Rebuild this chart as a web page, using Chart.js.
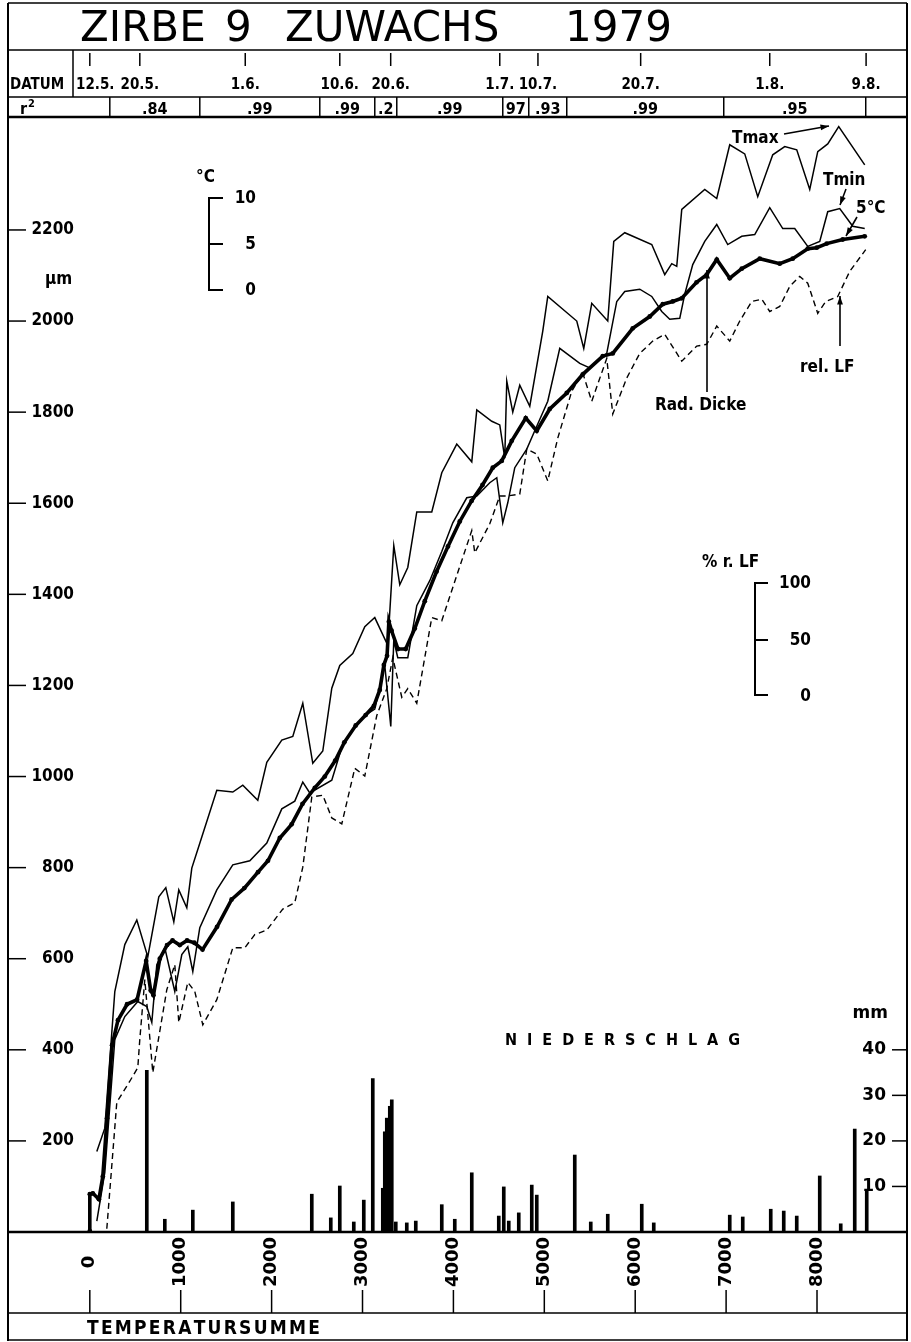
<!DOCTYPE html>
<html>
<head>
<meta charset="utf-8">
<script src="https://cdn.jsdelivr.net/npm/chart.js@4.4.1/dist/chart.umd.min.js"></script>
<style>
html, body { margin: 0; padding: 0; background: #fff; }
canvas { display: block; }
</style>
</head>
<body>
<canvas id="zuwachs" width="911" height="1342" style="width:911px;height:1342px"></canvas>
<script>
// Temperatursumme (x) / values
const tickTempSum = [0, 1000, 2000, 3000, 4000, 5000, 6000, 7000, 8000];
const tickUm = [200, 400, 600, 800, 1000, 1200, 1400, 1600, 1800, 2000, 2200];
const tickMm = [10, 20, 30, 40];

const dateLabels = ['12.5.', '20.5.', '1.6.', '10.6.', '20.6.', '1.7.', '10.7.', '20.7.', '1.8.', '9.8.'];
const dateTempSum = [0, 550, 1710, 2750, 3310, 4510, 4930, 6060, 7480, 8540];

const r2Bounds = [220, 1210, 2530, 3135, 3377, 4543, 4829, 5247, 6974, 8536];
const r2Labels = ['.84', '.99', '.99', '.2', '.99', '97', '.93', '.99', '.95'];

// Radialer Zuwachs (Rad. Dicke), µm
const radX = [0,0,33,100,143,190,245,310,410,520,620,670,700,770,850,910,990,1070,1150,1240,1400,1560,1700,1850,1960,2090,2220,2340,2475,2585,2700,2800,2925,3035,3125,3190,3235,3270,3290,3320,3390,3475,3575,3685,3815,3940,4070,4200,4320,4433,4532,4642,4796,4917,5060,5247,5423,5643,5753,5973,6160,6303,6413,6512,6675,6787,6897,7040,7172,7370,7590,7733,7898,7997,8107,8283,8525];
const radY = [2,83,85,72,122,250,410,465,500,510,595,530,520,600,630,640,630,640,635,620,670,730,755,790,815,865,895,940,975,1000,1035,1075,1112,1135,1155,1190,1245,1265,1340,1320,1280,1280,1325,1385,1450,1505,1560,1605,1640,1678,1693,1737,1787,1759,1807,1842,1883,1923,1929,1984,2010,2037,2043,2050,2085,2102,2135,2094,2115,2137,2126,2137,2159,2161,2170,2179,2186];

// Tmax (plotted on the µm grid)
const tmaxX = [77,165,275,385,517,638,759,836,924,979,1067,1122,1232,1397,1573,1683,1848,1947,2112,2233,2343,2453,2563,2662,2750,2893,3025,3135,3278,3344,3410,3498,3597,3762,3872,4037,4202,4257,4422,4510,4565,4587,4653,4730,4840,4983,5038,5357,5434,5522,5698,5764,5885,6182,6325,6402,6457,6512,6765,6897,7040,7205,7348,7513,7645,7777,7920,8008,8118,8239,8525];
const tmaxY = [177,228,528,631,685,604,736,756,681,751,712,799,867,970,966,981,948,1031,1080,1088,1161,1029,1056,1194,1244,1270,1329,1349,1288,1507,1421,1459,1581,1581,1667,1730,1691,1805,1780,1772,1699,1868,1800,1859,1813,1978,2054,2000,1940,2039,2000,2175,2194,2168,2102,2126,2120,2245,2289,2269,2387,2367,2273,2365,2383,2376,2289,2372,2389,2427,2343];

// Tmin
const tminX = [77,165,275,385,528,627,682,737,825,935,1012,1078,1133,1210,1397,1573,1760,1947,2112,2255,2343,2420,2662,2772,2893,3025,3135,3245,3311,3344,3388,3498,3597,3740,3872,3993,4147,4257,4400,4477,4543,4598,4675,4807,4895,5038,5170,5390,5500,5687,5797,5885,6050,6182,6292,6380,6490,6545,6633,6765,6897,7018,7172,7315,7480,7623,7755,7898,8030,8118,8250,8393,8525];
const tminY = [24,131,423,473,506,495,460,587,624,528,609,626,572,668,751,806,815,854,929,946,988,964,992,1064,1102,1134,1148,1244,1110,1299,1261,1261,1375,1430,1494,1557,1612,1616,1645,1656,1557,1601,1678,1719,1759,1824,1940,1907,1897,1929,2043,2065,2070,2054,2021,2004,2006,2059,2124,2175,2212,2168,2186,2190,2249,2203,2203,2164,2175,2240,2247,2208,2203];

// rel. Luftfeuchte (dashed)
const rlfX = [187,297,440,528,550,605,693,847,935,979,1078,1155,1243,1397,1573,1705,1815,1947,2123,2255,2343,2442,2563,2662,2772,2915,3025,3157,3267,3333,3432,3498,3597,3762,3872,3993,4202,4235,4400,4510,4598,4730,4807,4917,5038,5148,5302,5423,5522,5687,5753,5907,6050,6193,6325,6512,6677,6787,6897,7040,7150,7282,7392,7480,7590,7700,7810,7898,8008,8096,8228,8360,8536];
const rlfY = [7,285,331,361,423,554,350,532,587,460,548,528,455,510,624,624,653,663,709,723,801,955,959,909,896,1018,1001,1134,1193,1261,1174,1193,1161,1349,1342,1415,1540,1491,1555,1616,1616,1620,1719,1708,1649,1743,1846,1886,1824,1918,1796,1875,1929,1956,1971,1912,1945,1949,1989,1956,2000,2043,2048,2021,2032,2076,2098,2083,2017,2043,2054,2109,2157];

// Niederschlag, mm
const precipX = [627,825,1133,1573,2442,2651,2750,2904,3014,3113,3223,3245,3267,3300,3322,3366,3487,3586,3872,4015,4202,4499,4554,4609,4719,4862,4917,5335,5511,5698,6072,6204,7040,7183,7491,7634,7777,8030,8261,8415,8547];
const precipMm = [35.5,2.8,4.8,6.6,8.3,3.1,10.1,2.2,7.0,33.7,9.6,22,25,27.6,29,2.2,2.0,2.4,6.0,2.8,13.0,3.5,9.9,2.4,4.2,10.3,8.1,16.9,2.2,3.9,6.1,2.0,3.7,3.3,5.0,4.6,3.5,12.3,1.8,22.6,9.2];

const pts = (xs, ys) => xs.map((v, i) => ({ x: v, y: ys[i] }));

const COND = '"DejaVu Sans Condensed", "DejaVu Sans", sans-serif';
const SANS = '"DejaVu Sans", sans-serif';

function seg(ctx, x1, y1, x2, y2, w) {
    ctx.lineWidth = w || 1.5;
    ctx.beginPath();
    ctx.moveTo(x1, y1);
    ctx.lineTo(x2, y2);
    ctx.stroke();
}

function arrow(ctx, x1, y1, x2, y2) {
    seg(ctx, x1, y1, x2, y2, 1.6);
    const a = Math.atan2(y2 - y1, x2 - x1), h = 9;
    ctx.beginPath();
    ctx.moveTo(x2, y2);
    ctx.lineTo(x2 - h * Math.cos(a - 0.33), y2 - h * Math.sin(a - 0.33));
    ctx.lineTo(x2 - h * Math.cos(a + 0.33), y2 - h * Math.sin(a + 0.33));
    ctx.closePath();
    ctx.fill();
}

// letters spread evenly over a given width
function spread(ctx, text, x, y, width) {
    const ws = [...text].map(c => ctx.measureText(c).width);
    const sum = ws.reduce((s, w) => s + w, 0);
    const gap = (width - sum) / (text.length - 1);
    let cx = x;
    ctx.textAlign = 'left';
    [...text].forEach((c, i) => { ctx.fillText(c, cx, y); cx += ws[i] + gap; });
}

const paperPlugin = {
    id: 'paper',
    afterDraw(chart) {
        const { ctx, chartArea: a } = chart;
        const sx = chart.scales.x, sy = chart.scales.y, sy2 = chart.scales.y2;
        const L = a.left, R = a.right, T = a.top, B = a.bottom;
        ctx.save();
        ctx.strokeStyle = '#000';
        ctx.fillStyle = '#000';

        // frame
        seg(ctx, L, 3, R, 3, 1.5);
        seg(ctx, L, 3, L, 1341, 2);
        seg(ctx, R, 3, R, 1341, 2);
        seg(ctx, L, 50, R, 50, 1.5);
        seg(ctx, L, 97, R, 97, 1.5);
        seg(ctx, L, T, R, T, 2.5);
        seg(ctx, L, B, R, B, 2.5);
        seg(ctx, L, 1313, R, 1313, 1.5);
        seg(ctx, L, 1340, R, 1340, 1.5);

        // title
        ctx.font = '42px ' + SANS;
        ctx.textAlign = 'left';
        ctx.textBaseline = 'alphabetic';
        ctx.fillText('ZIRBE', 80, 41);
        ctx.fillText('9', 225, 41);
        ctx.fillText('ZUWACHS', 285, 41);
        ctx.fillText('1979', 565, 41);

        // DATUM row
        seg(ctx, 73, 50, 73, 97, 1.5);
        ctx.font = 'bold 15px ' + COND;
        ctx.fillText('DATUM', 10, 89);
        ctx.textAlign = 'center';
        dateTempSum.forEach((v, i) => {
            const px = sx.getPixelForValue(v);
            seg(ctx, px, 53, px, 66, 1.5);
            const w = ctx.measureText(dateLabels[i]).width;
            const cx = Math.max(px, 76 + w / 2);
            ctx.fillText(dateLabels[i], cx, 89);
        });

        // r2 row
        ctx.font = 'bold 16px ' + COND;
        ctx.textAlign = 'left';
        ctx.fillText('r', 20, 114);
        ctx.font = 'bold 11px ' + COND;
        ctx.fillText('2', 28, 107);
        ctx.font = 'bold 16px ' + COND;
        ctx.textAlign = 'center';
        const bpx = r2Bounds.map(v => sx.getPixelForValue(v));
        bpx.forEach(px => seg(ctx, px, 97, px, T, 1.5));
        r2Labels.forEach((lab, i) => {
            ctx.fillText(lab, (bpx[i] + bpx[i + 1]) / 2, 114);
        });

        // left axis (µm)
        ctx.font = 'bold 17px ' + COND;
        ctx.textAlign = 'right';
        ctx.textBaseline = 'middle';
        tickUm.forEach(v => {
            const py = sy.getPixelForValue(v);
            seg(ctx, L, py, L + 18, py, 1.5);
            ctx.fillText(String(v), 74, py);
        });
        ctx.textAlign = 'left';
        ctx.fillText('\u00b5m', 45, 280);

        // right axis (mm)
        ctx.font = 'bold 17px ' + SANS;
        ctx.textAlign = 'right';
        tickMm.forEach(v => {
            const py = sy2.getPixelForValue(v);
            seg(ctx, R - 15, py, R, py, 1.5);
            ctx.fillText(String(v), R - 21, py);
        });
        ctx.fillText('mm', 888, 1014);

        // bottom axis (Temperatursumme)
        ctx.font = 'bold 18px ' + SANS;
        ctx.textAlign = 'center';
        tickTempSum.forEach(v => {
            const px = sx.getPixelForValue(v);
            seg(ctx, px, 1290, px, 1313, 1.5);
            ctx.save();
            ctx.translate(px, 1262);
            ctx.rotate(-Math.PI / 2);
            ctx.fillText(String(v), 0, 0);
            ctx.restore();
        });
        ctx.textBaseline = 'alphabetic';
        ctx.font = 'bold 19px ' + COND;
        spread(ctx, 'TEMPERATURSUMME', 87, 1334, 233);

        // °C scale
        seg(ctx, 209, 197, 209, 291, 2);
        [198, 244, 290].forEach(py => seg(ctx, 208, py, 223, py, 2));
        ctx.font = 'bold 17px ' + COND;
        ctx.textAlign = 'right';
        ctx.textBaseline = 'middle';
        ctx.fillText('10', 256, 199);
        ctx.fillText('5', 256, 245);
        ctx.fillText('0', 256, 291);
        ctx.textAlign = 'left';
        ctx.fillText('\u00b0C', 196, 178);

        // % r. LF scale
        seg(ctx, 755, 582, 755, 696, 2);
        [583, 640, 695].forEach(py => seg(ctx, 754, py, 768, py, 2));
        ctx.textAlign = 'right';
        ctx.fillText('100', 811, 584);
        ctx.fillText('50', 811, 641);
        ctx.fillText('0', 811, 697);
        ctx.textAlign = 'left';
        ctx.fillText('% r. LF', 702, 563);

        // labels and arrows
        ctx.textBaseline = 'alphabetic';
        ctx.font = 'bold 17px ' + COND;
        ctx.fillText('Tmax', 732, 143);
        arrow(ctx, 784, 134, 829, 126);
        ctx.fillText('Tmin', 823, 185);
        arrow(ctx, 846, 189, 840, 205);
        ctx.fillText('5\u00b0C', 856, 213);
        arrow(ctx, 857, 217, 846, 236);
        ctx.fillText('Rad. Dicke', 655, 410);
        arrow(ctx, 707, 392, 707, 270);
        ctx.fillText('rel. LF', 800, 372);
        arrow(ctx, 840, 346, 840, 296);

        ctx.font = 'bold 16px ' + COND;
        spread(ctx, 'NIEDERSCHLAG', 505, 1045, 235);

        ctx.restore();
    }
};

new Chart(document.getElementById('zuwachs').getContext('2d'), {
    type: 'line',
    data: {
        datasets: [
            {
                type: 'bar',
                label: 'Niederschlag',
                data: pts(precipX, precipMm),
                yAxisID: 'y2',
                backgroundColor: '#000',
                barThickness: 3,
                order: 5
            },
            {
                label: 'rel. LF',
                data: pts(rlfX, rlfY),
                borderColor: '#000',
                borderWidth: 1.4,
                borderDash: [6, 4],
                pointRadius: 0,
                order: 4
            },
            {
                label: 'Tmin',
                data: pts(tminX, tminY),
                borderColor: '#000',
                borderWidth: 1.5,
                pointRadius: 0,
                order: 3
            },
            {
                label: 'Tmax',
                data: pts(tmaxX, tmaxY),
                borderColor: '#000',
                borderWidth: 1.5,
                pointRadius: 0,
                order: 2
            },
            {
                label: 'Rad. Dicke',
                data: pts(radX, radY),
                borderColor: '#000',
                backgroundColor: '#000',
                borderWidth: 3.6,
                pointRadius: 2.4,
                pointBackgroundColor: '#000',
                pointBorderWidth: 0,
                order: 1
            }
        ]
    },
    options: {
        responsive: false,
        animation: false,
        devicePixelRatio: 1,
        layout: { padding: { left: 8, right: 3, top: 117, bottom: 110 } },
        plugins: {
            legend: { display: false },
            tooltip: { enabled: false }
        },
        scales: {
            x: { type: 'linear', min: -900, max: 8990, offset: false, display: false },
            y: { type: 'linear', min: 0, max: 2448, display: false },
            y2: { type: 'linear', min: 0, max: 244.8, display: false, position: 'right' }
        }
    },
    plugins: [paperPlugin]
});
</script>
</body>
</html>
